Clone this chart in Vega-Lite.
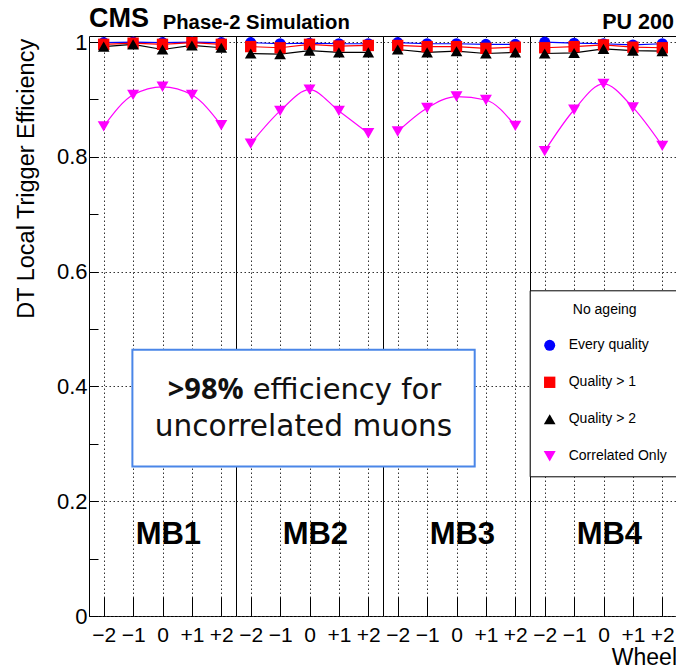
{
  "$schema": "https://vega.github.io/schema/vega-lite/v6.json",
  "background": "white",
  "padding": {"left": 14, "top": 4, "right": 0, "bottom": 0},
  "bounds": "flush",
  "spacing": 0,
  "datasets": {
    "eff": [
      {"station": "MB1", "wheel": -2, "quality": "Every quality", "eff": 0.999},
      {"station": "MB1", "wheel": -1, "quality": "Every quality", "eff": 1.0},
      {"station": "MB1", "wheel": 0, "quality": "Every quality", "eff": 0.999},
      {"station": "MB1", "wheel": 1, "quality": "Every quality", "eff": 1.0},
      {"station": "MB1", "wheel": 2, "quality": "Every quality", "eff": 0.999},
      {"station": "MB2", "wheel": -2, "quality": "Every quality", "eff": 0.999},
      {"station": "MB2", "wheel": -1, "quality": "Every quality", "eff": 0.997},
      {"station": "MB2", "wheel": 0, "quality": "Every quality", "eff": 0.998},
      {"station": "MB2", "wheel": 1, "quality": "Every quality", "eff": 0.997},
      {"station": "MB2", "wheel": 2, "quality": "Every quality", "eff": 0.997},
      {"station": "MB3", "wheel": -2, "quality": "Every quality", "eff": 0.999},
      {"station": "MB3", "wheel": -1, "quality": "Every quality", "eff": 0.997},
      {"station": "MB3", "wheel": 0, "quality": "Every quality", "eff": 0.997},
      {"station": "MB3", "wheel": 1, "quality": "Every quality", "eff": 0.996},
      {"station": "MB3", "wheel": 2, "quality": "Every quality", "eff": 0.996},
      {"station": "MB4", "wheel": -2, "quality": "Every quality", "eff": 1.0},
      {"station": "MB4", "wheel": -1, "quality": "Every quality", "eff": 0.998},
      {"station": "MB4", "wheel": 0, "quality": "Every quality", "eff": 0.997},
      {"station": "MB4", "wheel": 1, "quality": "Every quality", "eff": 0.995},
      {"station": "MB4", "wheel": 2, "quality": "Every quality", "eff": 0.997},
      {"station": "MB1", "wheel": -2, "quality": "Quality > 1", "eff": 0.996},
      {"station": "MB1", "wheel": -1, "quality": "Quality > 1", "eff": 0.998},
      {"station": "MB1", "wheel": 0, "quality": "Quality > 1", "eff": 0.996},
      {"station": "MB1", "wheel": 1, "quality": "Quality > 1", "eff": 0.999},
      {"station": "MB1", "wheel": 2, "quality": "Quality > 1", "eff": 0.996},
      {"station": "MB2", "wheel": -2, "quality": "Quality > 1", "eff": 0.992},
      {"station": "MB2", "wheel": -1, "quality": "Quality > 1", "eff": 0.99},
      {"station": "MB2", "wheel": 0, "quality": "Quality > 1", "eff": 0.996},
      {"station": "MB2", "wheel": 1, "quality": "Quality > 1", "eff": 0.993},
      {"station": "MB2", "wheel": 2, "quality": "Quality > 1", "eff": 0.994},
      {"station": "MB3", "wheel": -2, "quality": "Quality > 1", "eff": 0.994},
      {"station": "MB3", "wheel": -1, "quality": "Quality > 1", "eff": 0.992},
      {"station": "MB3", "wheel": 0, "quality": "Quality > 1", "eff": 0.992},
      {"station": "MB3", "wheel": 1, "quality": "Quality > 1", "eff": 0.989},
      {"station": "MB3", "wheel": 2, "quality": "Quality > 1", "eff": 0.991},
      {"station": "MB4", "wheel": -2, "quality": "Quality > 1", "eff": 0.99},
      {"station": "MB4", "wheel": -1, "quality": "Quality > 1", "eff": 0.992},
      {"station": "MB4", "wheel": 0, "quality": "Quality > 1", "eff": 0.995},
      {"station": "MB4", "wheel": 1, "quality": "Quality > 1", "eff": 0.991},
      {"station": "MB4", "wheel": 2, "quality": "Quality > 1", "eff": 0.99},
      {"station": "MB1", "wheel": -2, "quality": "Quality > 2", "eff": 0.992},
      {"station": "MB1", "wheel": -1, "quality": "Quality > 2", "eff": 0.996},
      {"station": "MB1", "wheel": 0, "quality": "Quality > 2", "eff": 0.987},
      {"station": "MB1", "wheel": 1, "quality": "Quality > 2", "eff": 0.994},
      {"station": "MB1", "wheel": 2, "quality": "Quality > 2", "eff": 0.99},
      {"station": "MB2", "wheel": -2, "quality": "Quality > 2", "eff": 0.98},
      {"station": "MB2", "wheel": -1, "quality": "Quality > 2", "eff": 0.979},
      {"station": "MB2", "wheel": 0, "quality": "Quality > 2", "eff": 0.985},
      {"station": "MB2", "wheel": 1, "quality": "Quality > 2", "eff": 0.982},
      {"station": "MB2", "wheel": 2, "quality": "Quality > 2", "eff": 0.982},
      {"station": "MB3", "wheel": -2, "quality": "Quality > 2", "eff": 0.987},
      {"station": "MB3", "wheel": -1, "quality": "Quality > 2", "eff": 0.982},
      {"station": "MB3", "wheel": 0, "quality": "Quality > 2", "eff": 0.984},
      {"station": "MB3", "wheel": 1, "quality": "Quality > 2", "eff": 0.98},
      {"station": "MB3", "wheel": 2, "quality": "Quality > 2", "eff": 0.982},
      {"station": "MB4", "wheel": -2, "quality": "Quality > 2", "eff": 0.98},
      {"station": "MB4", "wheel": -1, "quality": "Quality > 2", "eff": 0.981},
      {"station": "MB4", "wheel": 0, "quality": "Quality > 2", "eff": 0.988},
      {"station": "MB4", "wheel": 1, "quality": "Quality > 2", "eff": 0.985},
      {"station": "MB4", "wheel": 2, "quality": "Quality > 2", "eff": 0.984},
      {"station": "MB1", "wheel": -2, "quality": "Correlated Only", "eff": 0.853},
      {"station": "MB1", "wheel": -1, "quality": "Correlated Only", "eff": 0.908},
      {"station": "MB1", "wheel": 0, "quality": "Correlated Only", "eff": 0.922},
      {"station": "MB1", "wheel": 1, "quality": "Correlated Only", "eff": 0.908},
      {"station": "MB1", "wheel": 2, "quality": "Correlated Only", "eff": 0.855},
      {"station": "MB2", "wheel": -2, "quality": "Correlated Only", "eff": 0.823},
      {"station": "MB2", "wheel": -1, "quality": "Correlated Only", "eff": 0.88},
      {"station": "MB2", "wheel": 0, "quality": "Correlated Only", "eff": 0.917},
      {"station": "MB2", "wheel": 1, "quality": "Correlated Only", "eff": 0.88},
      {"station": "MB2", "wheel": 2, "quality": "Correlated Only", "eff": 0.841},
      {"station": "MB3", "wheel": -2, "quality": "Correlated Only", "eff": 0.844},
      {"station": "MB3", "wheel": -1, "quality": "Correlated Only", "eff": 0.885},
      {"station": "MB3", "wheel": 0, "quality": "Correlated Only", "eff": 0.905},
      {"station": "MB3", "wheel": 1, "quality": "Correlated Only", "eff": 0.899},
      {"station": "MB3", "wheel": 2, "quality": "Correlated Only", "eff": 0.854},
      {"station": "MB4", "wheel": -2, "quality": "Correlated Only", "eff": 0.81},
      {"station": "MB4", "wheel": -1, "quality": "Correlated Only", "eff": 0.882},
      {"station": "MB4", "wheel": 0, "quality": "Correlated Only", "eff": 0.927},
      {"station": "MB4", "wheel": 1, "quality": "Correlated Only", "eff": 0.886},
      {"station": "MB4", "wheel": 2, "quality": "Correlated Only", "eff": 0.819}
    ],
    "stations": [
      {"station": "MB1"}, {"station": "MB2"}, {"station": "MB3"}, {"station": "MB4"}
    ],
    "note": [
      {"bold": ">98%", "rest": "efficiency for", "line2": "uncorrelated muons"}
    ]
  },
  "resolve": {
    "scale": {"color": "shared", "shape": "shared", "size": "shared", "stroke": "shared"},
    "legend": {"color": "shared", "shape": "shared"}
  },
  "hconcat": [
    {
      "width": 147, "height": 580,
      "title": {"text": "CMS", "fontSize": 27, "offset": -2},
      "layer": [
        {"data": {"name": "eff"}, "transform": [{"filter": "datum.station == 'MB1' && datum.quality != 'Correlated Only'"}],
          "mark": {"type": "line", "strokeWidth": 1.2},
          "encoding": {
            "x": {"field": "wheel", "type": "quantitative", "title": null, "scale": {"domain": [-2.5, 2.5], "nice": false, "zero": false},
              "axis": {"values": [-2, -1, 0, 1, 2], "labelExpr": "datum.value < 0 ? '\u2212' + abs(datum.value) : datum.value > 0 ? '+' + datum.value : '0'", "tickSize": -19, "labelPadding": 27, "labelFontSize": 21, "labelOverlap": false, "grid": true}},
            "y": {"field": "eff", "type": "quantitative", "title": "DT Local Trigger Efficiency", "scale": {"domain": [0, 1.0105], "nice": false, "zero": false},
              "axis": {"values": [0, 0.05, 0.1, 0.15, 0.2, 0.25, 0.3, 0.35, 0.4, 0.45, 0.5, 0.55, 0.6, 0.65, 0.7, 0.75, 0.8, 0.85, 0.9, 0.95, 1],
                "labelExpr": "abs(datum.value*5 - round(datum.value*5)) < 0.001 ? (datum.value == 0 ? '0' : datum.value == 1 ? '1' : format(datum.value, '.1f')) : ''",
                "tickSize": -9, "labelPadding": 11, "labelFontSize": 22, "labelOverlap": false, "grid": true,
                "gridOpacity": {"condition": {"test": "abs(datum.value*5 - round(datum.value*5)) < 0.001", "value": 1}, "value": 0},
                "titleFontSize": 23.5, "titleFontWeight": "normal", "titleX": -55.3, "titleY": 2.3, "titleAlign": "right", "titleBaseline": "alphabetic", "titleAngle": 270}},
            "stroke": {"field": "quality", "type": "nominal", "scale": {"domain": ["Every quality", "Quality > 1", "Quality > 2"], "range": ["#0000ff", "#ff0000", "#000000"]}, "legend": null}}},
        {"data": {"name": "eff"}, "transform": [{"filter": "datum.station == 'MB1' && datum.quality == 'Correlated Only'"}],
          "mark": {"type": "line", "strokeWidth": 1.2, "interpolate": "monotone", "color": "#ff00ff"},
          "encoding": {
            "x": {"field": "wheel", "type": "quantitative", "title": null, "scale": {"domain": [-2.5, 2.5], "nice": false, "zero": false},
              "axis": {"values": [-2, -1, 0, 1, 2], "labelExpr": "datum.value < 0 ? '\u2212' + abs(datum.value) : datum.value > 0 ? '+' + datum.value : '0'", "tickSize": -19, "labelPadding": 27, "labelFontSize": 21, "labelOverlap": false, "grid": true}},
            "y": {"field": "eff", "type": "quantitative", "title": "DT Local Trigger Efficiency"}}},
        {"data": {"name": "eff"}, "transform": [{"filter": "datum.station == 'MB1'"}],
          "mark": {"type": "point", "filled": true, "opacity": 1},
          "encoding": {
            "x": {"field": "wheel", "type": "quantitative", "title": null, "scale": {"domain": [-2.5, 2.5], "nice": false, "zero": false},
              "axis": {"values": [-2, -1, 0, 1, 2], "labelExpr": "datum.value < 0 ? '\u2212' + abs(datum.value) : datum.value > 0 ? '+' + datum.value : '0'", "tickSize": -19, "labelPadding": 27, "labelFontSize": 21, "labelOverlap": false, "grid": true}},
            "y": {"field": "eff", "type": "quantitative", "title": "DT Local Trigger Efficiency"},
            "color": {"field": "quality", "type": "nominal", "title": "No ageing", "scale": {"domain": ["Every quality", "Quality > 1", "Quality > 2", "Correlated Only"], "range": ["#0000ff", "#ff0000", "#000000", "#ff00ff"]}, "legend": {"orient": "none", "legendX": 440.7, "legendY": 254.3, "zindex": 1}},
            "shape": {"field": "quality", "type": "nominal", "title": "No ageing", "scale": {"domain": ["Every quality", "Quality > 1", "Quality > 2", "Correlated Only"], "range": ["circle", "square", "triangle-up", "triangle-down"]}, "legend": {"orient": "none", "legendX": 440.7, "legendY": 254.3, "zindex": 1}},
            "size": {"field": "quality", "type": "ordinal", "scale": {"domain": ["Every quality", "Quality > 1", "Quality > 2", "Correlated Only"], "range": [121, 144, 115, 135]}, "legend": null}
          }},
        {"data": {"name": "stations"}, "transform": [{"filter": "datum.station == 'MB1'"}],
          "mark": {"type": "text", "fontSize": 31, "fontWeight": "bold", "baseline": "alphabetic", "align": "center", "color": "#000000"},
          "encoding": {"x": {"datum": 0.2, "type": "quantitative", "axis": {"values": [-2, -1, 0, 1, 2], "labelExpr": "datum.value < 0 ? '\u2212' + abs(datum.value) : datum.value > 0 ? '+' + datum.value : '0'", "tickSize": -19, "labelPadding": 27, "labelFontSize": 21, "labelOverlap": false, "grid": true}}, "y": {"datum": 0.1255}, "text": {"field": "station"}}}
      ]
    },
    {
      "width": 147, "height": 580,
      "title": {"text": "Phase-2 Simulation", "fontSize": 20.3, "dx": -73.3, "offset": 2.5},
      "layer": [
        {"data": {"name": "eff"}, "transform": [{"filter": "datum.station == 'MB2' && datum.quality != 'Correlated Only'"}],
          "mark": {"type": "line", "strokeWidth": 1.2},
          "encoding": {
            "x": {"field": "wheel", "type": "quantitative", "title": null, "scale": {"domain": [-2.5, 2.5], "nice": false, "zero": false},
              "axis": {"values": [-2, -1, 0, 1, 2], "labelExpr": "datum.value < 0 ? '\u2212' + abs(datum.value) : datum.value > 0 ? '+' + datum.value : '0'", "tickSize": -19, "labelPadding": 27, "labelFontSize": 21, "labelOverlap": false, "grid": true}},
            "y": {"field": "eff", "type": "quantitative", "title": null, "scale": {"domain": [0, 1.0105], "nice": false, "zero": false},
              "axis": {"values": [0, 0.2, 0.4, 0.6, 0.8, 1], "labels": false, "ticks": false, "grid": true}},
            "stroke": {"field": "quality", "type": "nominal", "scale": {"domain": ["Every quality", "Quality > 1", "Quality > 2"], "range": ["#0000ff", "#ff0000", "#000000"]}, "legend": null}}},
        {"data": {"name": "eff"}, "transform": [{"filter": "datum.station == 'MB2' && datum.quality == 'Correlated Only'"}],
          "mark": {"type": "line", "strokeWidth": 1.2, "interpolate": "monotone", "color": "#ff00ff"},
          "encoding": {
            "x": {"field": "wheel", "type": "quantitative", "title": null, "scale": {"domain": [-2.5, 2.5], "nice": false, "zero": false},
              "axis": {"values": [-2, -1, 0, 1, 2], "labelExpr": "datum.value < 0 ? '\u2212' + abs(datum.value) : datum.value > 0 ? '+' + datum.value : '0'", "tickSize": -19, "labelPadding": 27, "labelFontSize": 21, "labelOverlap": false, "grid": true}},
            "y": {"field": "eff", "type": "quantitative", "title": null}}},
        {"data": {"name": "eff"}, "transform": [{"filter": "datum.station == 'MB2'"}],
          "mark": {"type": "point", "filled": true, "opacity": 1},
          "encoding": {
            "x": {"field": "wheel", "type": "quantitative", "title": null, "scale": {"domain": [-2.5, 2.5], "nice": false, "zero": false},
              "axis": {"values": [-2, -1, 0, 1, 2], "labelExpr": "datum.value < 0 ? '\u2212' + abs(datum.value) : datum.value > 0 ? '+' + datum.value : '0'", "tickSize": -19, "labelPadding": 27, "labelFontSize": 21, "labelOverlap": false, "grid": true}},
            "y": {"field": "eff", "type": "quantitative", "title": null},
            "color": {"field": "quality", "type": "nominal", "title": "No ageing", "scale": {"domain": ["Every quality", "Quality > 1", "Quality > 2", "Correlated Only"], "range": ["#0000ff", "#ff0000", "#000000", "#ff00ff"]}},
            "shape": {"field": "quality", "type": "nominal", "title": "No ageing", "scale": {"domain": ["Every quality", "Quality > 1", "Quality > 2", "Correlated Only"], "range": ["circle", "square", "triangle-up", "triangle-down"]}},
            "size": {"field": "quality", "type": "ordinal", "scale": {"domain": ["Every quality", "Quality > 1", "Quality > 2", "Correlated Only"], "range": [121, 144, 115, 135]}, "legend": null}
          }},
        {"data": {"name": "stations"}, "transform": [{"filter": "datum.station == 'MB2'"}],
          "mark": {"type": "text", "fontSize": 31, "fontWeight": "bold", "baseline": "alphabetic", "align": "center", "color": "#000000"},
          "encoding": {"x": {"datum": 0.2, "type": "quantitative", "axis": {"values": [-2, -1, 0, 1, 2], "labelExpr": "datum.value < 0 ? '\u2212' + abs(datum.value) : datum.value > 0 ? '+' + datum.value : '0'", "tickSize": -19, "labelPadding": 27, "labelFontSize": 21, "labelOverlap": false, "grid": true}}, "y": {"datum": 0.1255}, "text": {"field": "station"}}}
      ]
    },
    {
      "width": 147, "height": 580,
      "layer": [
        {"data": {"name": "eff"}, "transform": [{"filter": "datum.station == 'MB3' && datum.quality != 'Correlated Only'"}],
          "mark": {"type": "line", "strokeWidth": 1.2},
          "encoding": {
            "x": {"field": "wheel", "type": "quantitative", "title": null, "scale": {"domain": [-2.5, 2.5], "nice": false, "zero": false},
              "axis": {"values": [-2, -1, 0, 1, 2], "labelExpr": "datum.value < 0 ? '\u2212' + abs(datum.value) : datum.value > 0 ? '+' + datum.value : '0'", "tickSize": -19, "labelPadding": 27, "labelFontSize": 21, "labelOverlap": false, "grid": true}},
            "y": {"field": "eff", "type": "quantitative", "title": null, "scale": {"domain": [0, 1.0105], "nice": false, "zero": false},
              "axis": {"values": [0, 0.2, 0.4, 0.6, 0.8, 1], "labels": false, "ticks": false, "grid": true}},
            "stroke": {"field": "quality", "type": "nominal", "scale": {"domain": ["Every quality", "Quality > 1", "Quality > 2"], "range": ["#0000ff", "#ff0000", "#000000"]}, "legend": null}}},
        {"data": {"name": "eff"}, "transform": [{"filter": "datum.station == 'MB3' && datum.quality == 'Correlated Only'"}],
          "mark": {"type": "line", "strokeWidth": 1.2, "interpolate": "monotone", "color": "#ff00ff"},
          "encoding": {
            "x": {"field": "wheel", "type": "quantitative", "title": null, "scale": {"domain": [-2.5, 2.5], "nice": false, "zero": false},
              "axis": {"values": [-2, -1, 0, 1, 2], "labelExpr": "datum.value < 0 ? '\u2212' + abs(datum.value) : datum.value > 0 ? '+' + datum.value : '0'", "tickSize": -19, "labelPadding": 27, "labelFontSize": 21, "labelOverlap": false, "grid": true}},
            "y": {"field": "eff", "type": "quantitative", "title": null}}},
        {"data": {"name": "eff"}, "transform": [{"filter": "datum.station == 'MB3'"}],
          "mark": {"type": "point", "filled": true, "opacity": 1},
          "encoding": {
            "x": {"field": "wheel", "type": "quantitative", "title": null, "scale": {"domain": [-2.5, 2.5], "nice": false, "zero": false},
              "axis": {"values": [-2, -1, 0, 1, 2], "labelExpr": "datum.value < 0 ? '\u2212' + abs(datum.value) : datum.value > 0 ? '+' + datum.value : '0'", "tickSize": -19, "labelPadding": 27, "labelFontSize": 21, "labelOverlap": false, "grid": true}},
            "y": {"field": "eff", "type": "quantitative", "title": null},
            "color": {"field": "quality", "type": "nominal", "title": "No ageing", "scale": {"domain": ["Every quality", "Quality > 1", "Quality > 2", "Correlated Only"], "range": ["#0000ff", "#ff0000", "#000000", "#ff00ff"]}},
            "shape": {"field": "quality", "type": "nominal", "title": "No ageing", "scale": {"domain": ["Every quality", "Quality > 1", "Quality > 2", "Correlated Only"], "range": ["circle", "square", "triangle-up", "triangle-down"]}},
            "size": {"field": "quality", "type": "ordinal", "scale": {"domain": ["Every quality", "Quality > 1", "Quality > 2", "Correlated Only"], "range": [121, 144, 115, 135]}, "legend": null}
          }},
        {"data": {"name": "stations"}, "transform": [{"filter": "datum.station == 'MB3'"}],
          "mark": {"type": "text", "fontSize": 31, "fontWeight": "bold", "baseline": "alphabetic", "align": "center", "color": "#000000"},
          "encoding": {"x": {"datum": 0.2, "type": "quantitative", "axis": {"values": [-2, -1, 0, 1, 2], "labelExpr": "datum.value < 0 ? '\u2212' + abs(datum.value) : datum.value > 0 ? '+' + datum.value : '0'", "tickSize": -19, "labelPadding": 27, "labelFontSize": 21, "labelOverlap": false, "grid": true}}, "y": {"datum": 0.1255}, "text": {"field": "station"}}},
        {"data": {"name": "note"},
          "mark": {"type": "rect", "fill": "#ffffff", "stroke": "#4a86e8", "strokeWidth": 2},
          "encoding": {"x": {"datum": -11.024, "type": "quantitative", "axis": {"values": [-2, -1, 0, 1, 2], "labelExpr": "datum.value < 0 ? '\u2212' + abs(datum.value) : datum.value > 0 ? '+' + datum.value : '0'", "tickSize": -19, "labelPadding": 27, "labelFontSize": 21, "labelOverlap": false, "grid": true}}, "x2": {"datum": 0.619}, "y": {"datum": 0.4637}, "y2": {"datum": 0.2603}}},
        {"data": {"name": "note"},
          "mark": {"type": "text", "font": "Open Sans", "fontSize": 29, "fontWeight": "bold", "align": "right", "baseline": "alphabetic", "color": "#111111"},
          "encoding": {"x": {"datum": -7.24, "type": "quantitative", "axis": {"values": [-2, -1, 0, 1, 2], "labelExpr": "datum.value < 0 ? '\u2212' + abs(datum.value) : datum.value > 0 ? '+' + datum.value : '0'", "tickSize": -19, "labelPadding": 27, "labelFontSize": 21, "labelOverlap": false, "grid": true}}, "y": {"datum": 0.3788}, "text": {"field": "bold"}}},
        {"data": {"name": "note"},
          "mark": {"type": "text", "font": "DejaVu Sans", "fontSize": 29, "align": "left", "baseline": "alphabetic", "color": "#111111"},
          "encoding": {"x": {"datum": -6.93, "type": "quantitative", "axis": {"values": [-2, -1, 0, 1, 2], "labelExpr": "datum.value < 0 ? '\u2212' + abs(datum.value) : datum.value > 0 ? '+' + datum.value : '0'", "tickSize": -19, "labelPadding": 27, "labelFontSize": 21, "labelOverlap": false, "grid": true}}, "y": {"datum": 0.3788}, "text": {"field": "rest"}}},
        {"data": {"name": "note"},
          "mark": {"type": "text", "font": "DejaVu Sans", "fontSize": 29.6, "align": "center", "baseline": "alphabetic", "color": "#111111"},
          "encoding": {"x": {"datum": -5.204, "type": "quantitative", "axis": {"values": [-2, -1, 0, 1, 2], "labelExpr": "datum.value < 0 ? '\u2212' + abs(datum.value) : datum.value > 0 ? '+' + datum.value : '0'", "tickSize": -19, "labelPadding": 27, "labelFontSize": 21, "labelOverlap": false, "grid": true}}, "y": {"datum": 0.3143}, "text": {"field": "line2"}}}
      ]
    },
    {
      "width": 147, "height": 580,
      "title": {"text": "PU 200", "fontSize": 21.5, "anchor": "end", "dx": -3, "offset": 2.5},
      "layer": [
        {"data": {"name": "eff"}, "transform": [{"filter": "datum.station == 'MB4' && datum.quality != 'Correlated Only'"}],
          "mark": {"type": "line", "strokeWidth": 1.2},
          "encoding": {
            "x": {"field": "wheel", "type": "quantitative", "title": "Wheel", "scale": {"domain": [-2.5, 2.5], "nice": false, "zero": false},
              "axis": {"values": [-2, -1, 0, 1, 2], "labelExpr": "datum.value < 0 ? '\u2212' + abs(datum.value) : datum.value > 0 ? '+' + datum.value : '0'", "tickSize": -19, "labelPadding": 27, "labelFontSize": 21, "labelOverlap": false, "grid": true,
                "titleFontSize": 23, "titleFontWeight": "normal", "titleX": 146.5, "titleY": 48.5, "titleAlign": "right", "titleBaseline": "alphabetic"}},
            "y": {"field": "eff", "type": "quantitative", "title": null, "scale": {"domain": [0, 1.0105], "nice": false, "zero": false},
              "axis": {"values": [0, 0.2, 0.4, 0.6, 0.8, 1], "labels": false, "ticks": false, "grid": true}},
            "stroke": {"field": "quality", "type": "nominal", "scale": {"domain": ["Every quality", "Quality > 1", "Quality > 2"], "range": ["#0000ff", "#ff0000", "#000000"]}, "legend": null}}},
        {"data": {"name": "eff"}, "transform": [{"filter": "datum.station == 'MB4' && datum.quality == 'Correlated Only'"}],
          "mark": {"type": "line", "strokeWidth": 1.2, "interpolate": "monotone", "color": "#ff00ff"},
          "encoding": {
            "x": {"field": "wheel", "type": "quantitative", "title": "Wheel", "scale": {"domain": [-2.5, 2.5], "nice": false, "zero": false},
              "axis": {"values": [-2, -1, 0, 1, 2], "labelExpr": "datum.value < 0 ? '\u2212' + abs(datum.value) : datum.value > 0 ? '+' + datum.value : '0'", "tickSize": -19, "labelPadding": 27, "labelFontSize": 21, "labelOverlap": false, "grid": true,
                "titleFontSize": 23, "titleFontWeight": "normal", "titleX": 146.5, "titleY": 48.5, "titleAlign": "right", "titleBaseline": "alphabetic"}},
            "y": {"field": "eff", "type": "quantitative", "title": null}}},
        {"data": {"name": "eff"}, "transform": [{"filter": "datum.station == 'MB4'"}],
          "mark": {"type": "point", "filled": true, "opacity": 1},
          "encoding": {
            "x": {"field": "wheel", "type": "quantitative", "title": "Wheel", "scale": {"domain": [-2.5, 2.5], "nice": false, "zero": false},
              "axis": {"values": [-2, -1, 0, 1, 2], "labelExpr": "datum.value < 0 ? '\u2212' + abs(datum.value) : datum.value > 0 ? '+' + datum.value : '0'", "tickSize": -19, "labelPadding": 27, "labelFontSize": 21, "labelOverlap": false, "grid": true,
                "titleFontSize": 23, "titleFontWeight": "normal", "titleX": 146.5, "titleY": 48.5, "titleAlign": "right", "titleBaseline": "alphabetic"}},
            "y": {"field": "eff", "type": "quantitative", "title": null},
            "color": {"field": "quality", "type": "nominal", "title": "No ageing", "scale": {"domain": ["Every quality", "Quality > 1", "Quality > 2", "Correlated Only"], "range": ["#0000ff", "#ff0000", "#000000", "#ff00ff"]}},
            "shape": {"field": "quality", "type": "nominal", "title": "No ageing", "scale": {"domain": ["Every quality", "Quality > 1", "Quality > 2", "Correlated Only"], "range": ["circle", "square", "triangle-up", "triangle-down"]}},
            "size": {"field": "quality", "type": "ordinal", "scale": {"domain": ["Every quality", "Quality > 1", "Quality > 2", "Correlated Only"], "range": [121, 144, 115, 135]}, "legend": null}
          }},
        {"data": {"name": "stations"}, "transform": [{"filter": "datum.station == 'MB4'"}],
          "mark": {"type": "text", "fontSize": 31, "fontWeight": "bold", "baseline": "alphabetic", "align": "center", "color": "#000000"},
          "encoding": {"x": {"datum": 0.2, "type": "quantitative", "title": "Wheel", "axis": {"values": [-2, -1, 0, 1, 2], "labelExpr": "datum.value < 0 ? '\u2212' + abs(datum.value) : datum.value > 0 ? '+' + datum.value : '0'", "tickSize": -19, "labelPadding": 27, "labelFontSize": 21, "labelOverlap": false, "grid": true,
                "titleFontSize": 23, "titleFontWeight": "normal", "titleX": 146.5, "titleY": 48.5, "titleAlign": "right", "titleBaseline": "alphabetic"}}, "y": {"datum": 0.1255}, "text": {"field": "station"}}}
      ]
    }
  ],
  "config": {
    "font": "Liberation Sans",
    "view": {"stroke": "#000000", "strokeWidth": 1},
    "axis": {"labelFont": "Liberation Sans", "titleFont": "Liberation Sans", "labelColor": "#000000", "titleColor": "#000000", "tickColor": "#000000", "tickWidth": 1, "domain": false, "labelOverlap": false, "labelFlush": false, "gridColor": "#333333", "gridDash": [1.5, 2.5], "gridWidth": 1},
    "title": {"font": "Liberation Sans", "fontWeight": "bold", "color": "#000000", "anchor": "start", "frame": "group", "baseline": "alphabetic"},
    "legend": {"fillColor": "#ffffff", "strokeColor": "#000000", "padding": 13, "titleFont": "Liberation Sans", "titleFontSize": 14, "titleFontWeight": "normal", "titleColor": "#000000", "titleAnchor": "middle", "titleAlign": "center", "titlePadding": 21, "labelFont": "Liberation Sans", "labelFontSize": 14, "labelColor": "#000000", "rowPadding": 23, "symbolSize": 130, "labelOffset": 12, "symbolStrokeWidth": 0, "cornerRadius": 0}
  }
}
